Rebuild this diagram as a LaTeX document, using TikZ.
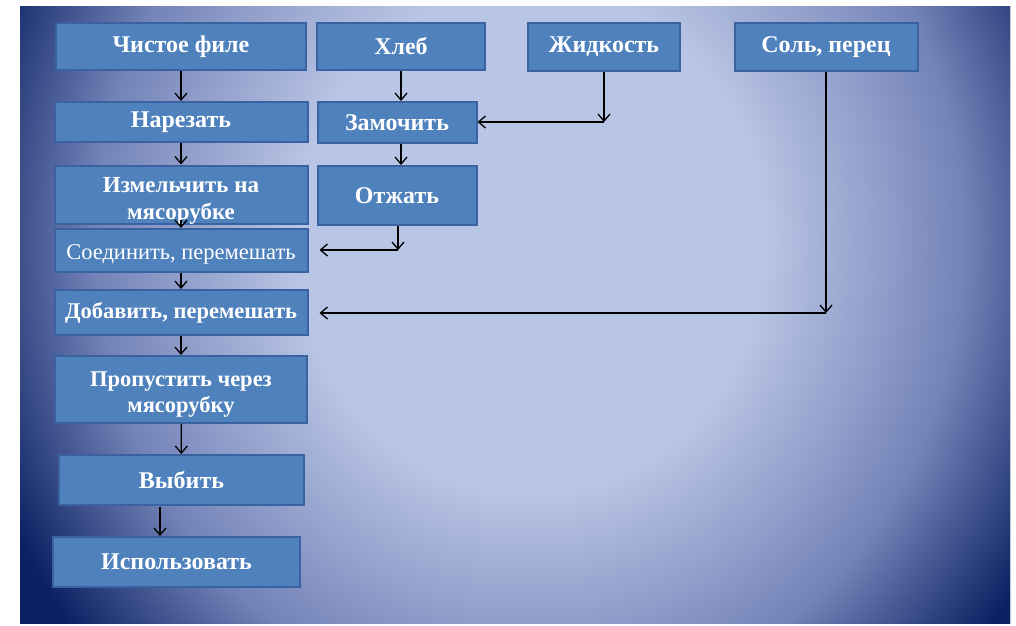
\documentclass[tikz,border=0pt]{standalone}
\usepackage{fontspec}
\setmainfont{Liberation Serif}
\usetikzlibrary{arrows.meta}
\usetikzlibrary{calc}
\usetikzlibrary{positioning}
\definecolor{bglight}{HTML}{B9C5E4}
\definecolor{bgmid}{HTML}{7383B8}
\definecolor{bgdark}{HTML}{0B2162}
\definecolor{boxfill}{HTML}{4F81BD}
\definecolor{boxline}{HTML}{3A62A0}
\pgfdeclareradialshading{slide}{\pgfpointorigin}{color(0bp)=(bglight); color(8.8bp)=(bglight); color(16.5bp)=(bgmid); color(22bp)=(bgdark); color(50bp)=(bgdark)}

\begin{document}
\begin{tikzpicture}[x=1pt, y=-1pt, semithick]
  \tikzstyle{box}=[draw=boxline, line width=2pt, fill=boxfill, text=white, inner sep=0pt, align=center, font=\fontsize{24}{27}\selectfont\bfseries]
  \tikzstyle{flow}=[-{Straight Barb[length=7pt,width=12pt]}, line width=1.3pt, black]
\useasboundingbox (0,0) rectangle (1016,625);
\fill[white] (0,0) rectangle (1016,625);
\begin{scope}
  \clip (20,6) rectangle (1010,623);
  \fill[bgdark] (20,6) rectangle (1010,623);
  \fill[shading=slide] (530,240) ellipse (660 and 716);
\end{scope}

% top row
\node[box, minimum width=250, minimum height=47] (fillet) at (181,46.5) {Чистое филе};
\node[box, minimum width=168, minimum height=47] (bread) at (401,46.5) {Хлеб};
\node[box, minimum width=152, minimum height=48] (liquid) at (604,47) {Жидкость};
\node[box, minimum width=183, minimum height=48] (salt) at (826,47) {Соль, перец};

% left column
\node[box, minimum width=253, minimum height=40] (cut) at (181,122) {Нарезать};
\node[box, minimum width=253, minimum height=58, font=\fontsize{23}{27}\selectfont\bfseries] (mince) at (181,195) {\rule{0pt}{27pt}Измельчить на\\мясорубке};
\node[box, minimum width=253, minimum height=43, font=\fontsize{22.5}{27}\selectfont] (combine) at (181,250.5) {\rule{0pt}{22pt}Соединить, перемешать};
\node[box, minimum width=253, minimum height=45, font=\fontsize{22.5}{27}\selectfont\bfseries] (add) at (181,312.5) {Добавить, перемешать};
\node[box, minimum width=252, minimum height=67, font=\fontsize{22.5}{26}\selectfont\bfseries] (pass) at (181,389.5) {\rule{0pt}{24pt}Пропустить через\\мясорубку};
\node[box, minimum width=245, minimum height=50] (beat) at (181.5,480) {Выбить};
\node[box, minimum width=247, minimum height=50] (use) at (176.5,562) {Использовать};

% middle column
\node[box, minimum width=159, minimum height=41] (soak) at (397,122.5) {Замочить};
\node[box, minimum width=159, minimum height=59] (squeeze) at (397,195.5) {Отжать};

\coordinate (lq) at (604,122);
\coordinate (sq) at (398,250);
\coordinate (sp) at (826,313);
\coordinate (bt) at (160,507);

\draw[flow] (fillet) -- (cut);
\draw[flow] (cut) -- (mince);
\draw[flow] ([yshift=5pt]mince.south) -- (combine.north);
\draw[flow] (combine) -- (add);
\draw[flow] (add) -- (pass);
\draw[flow] (pass) -- (beat);
\draw[flow] (bt) -- (bt |- use.north);

\draw[flow] (bread) -- (bread |- soak.north);
\draw[flow] (soak.south -| bread) -- (squeeze.north -| bread);
\draw[flow] (squeeze.south -| sq) -- (sq);
\draw[flow, shorten >=11pt] (sq) -- (sq -| combine.east);

\draw[flow] (liquid) -- (lq);
\draw[flow] (lq) -- (lq -| soak.east);

\draw[flow] (salt) -- (sp);
\draw[flow, shorten >=11pt] (sp) -- (sp -| add.east);
\end{tikzpicture}
\end{document}
